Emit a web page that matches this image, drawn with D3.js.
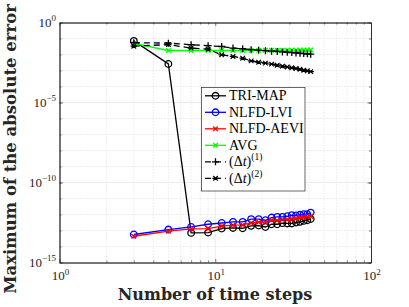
<!DOCTYPE html>
<html><head><meta charset="utf-8">
<script src="https://cdn.jsdelivr.net/npm/d3@7"></script>
<style>body{margin:0;background:#fff}svg{display:block}</style>
</head><body>
<svg id="c" width="409" height="307"></svg>
<script>
// ---- data (log10 of the maximum absolute error) ----
const steps = [3,5,7,9,11,13,15,17,19,21,23,25,27,29,31,33,35,37,39,41];
const triMapLog10 = [-1.15,-2.59,-13.15,-13.13,-12.88,-12.84,-12.86,-12.71,-12.69,-12.78,-12.61,-12.61,-12.54,-12.56,-12.56,-12.50,-12.46,-12.40,-12.36,-12.28];
const lviLog10    = [-13.25,-12.94,-12.78,-12.61,-12.53,-12.46,-12.46,-12.29,-12.29,-12.36,-12.19,-12.15,-12.15,-12.11,-12.04,-12.06,-12.02,-11.98,-11.98,-11.88];
const aeviLog10   = [-13.36,-13.04,-12.90,-12.88,-12.73,-12.67,-12.65,-12.53,-12.48,-12.48,-12.36,-12.38,-12.31,-12.31,-12.27,-12.25,-12.19,-12.15,-12.15,-12.11];
const avgLog10    = [-1.31,-1.75,-1.75,-1.75,-1.75,-1.75,-1.75,-1.74,-1.74,-1.74,-1.74,-1.74,-1.73,-1.73,-1.73,-1.73,-1.72,-1.72,-1.72,-1.72];
const dt1Log10    = [-1.26,-1.29,-1.39,-1.45,-1.50,-1.60,-1.64,-1.70,-1.73,-1.76,-1.79,-1.81,-1.84,-1.86,-1.88,-1.90,-1.92,-1.94,-1.96,-1.98];
const dt2Log10    = [-1.48,-1.38,-1.60,-1.67,-2.02,-2.12,-2.23,-2.40,-2.48,-2.54,-2.60,-2.67,-2.73,-2.78,-2.83,-2.88,-2.92,-2.98,-3.02,-3.07];
const seriesNames = ["TRI-MAP","NLFD-LVI","NLFD-AEVI","AVG","dt1","dt2"];
const xTickExps = [0,1,2];
const yTickExps = [0,-5,-10,-15];

const series = [
  {name:seriesNames[0], vals:triMapLog10, color:"#000000", marker:"o", dash:null},
  {name:seriesNames[1], vals:lviLog10, color:"#0000ff", marker:"o", dash:null},
  {name:seriesNames[2], vals:aeviLog10, color:"#ff0000", marker:"x", dash:null},
  {name:seriesNames[3], vals:avgLog10, color:"#00ff00", marker:"x", dash:null},
  {name:seriesNames[4], vals:dt1Log10, color:"#000000", marker:"+", dash:"6,4"},
  {name:seriesNames[5], vals:dt2Log10, color:"#000000", marker:"*", dash:"6,4"}
];

const L=59.5, R=371, T=22.5, B=262.5;
const svg = d3.select("#c");
const x = d3.scaleLog().domain([1,100]).range([L,R]);
const y = d3.scaleLog().domain([1e-15,1]).range([B,T]);
const serif = "'Liberation Serif','DejaVu Serif',serif";
const axisColor = "#262626";

// grid
const g = svg.append("g");
const minorX = [];
for (let d=1; d<100; d*=10) for (let k=2;k<=9;k++) minorX.push(d*k);
const minorY = [];
for (let e=-14; e<=-1; e++) if (e%5!==0) minorY.push(Math.pow(10,e));
g.selectAll(".mx").data(minorX).join("line")
  .attr("x1",d=>x(d)).attr("x2",d=>x(d)).attr("y1",T).attr("y2",B)
  .attr("stroke","#c8c8c8").attr("stroke-width",0.6).attr("stroke-dasharray","1,2");
g.selectAll(".my").data(minorY).join("line")
  .attr("y1",d=>y(d)).attr("y2",d=>y(d)).attr("x1",L).attr("x2",R)
  .attr("stroke","#c8c8c8").attr("stroke-width",0.6).attr("stroke-dasharray","1,2");
g.selectAll(".Mx").data([10]).join("line")
  .attr("x1",d=>x(d)).attr("x2",d=>x(d)).attr("y1",T).attr("y2",B)
  .attr("stroke","#e6e6e6").attr("stroke-width",0.8);
g.selectAll(".My").data([1e-5,1e-10]).join("line")
  .attr("y1",d=>y(d)).attr("y2",d=>y(d)).attr("x1",L).attr("x2",R)
  .attr("stroke","#e6e6e6").attr("stroke-width",0.8);

// axes (inward ticks)
function styleAxis(sel){
  sel.selectAll("path").attr("stroke",axisColor).attr("stroke-width",0.8);
  sel.selectAll("line").attr("stroke",axisColor).attr("stroke-width",0.6);
  sel.selectAll("text").remove();
}
const majX = xTickExps.map(e=>Math.pow(10,e));
const majY = yTickExps.map(e=>Math.pow(10,e));
const allYDec = d3.range(-15,1).map(e=>Math.pow(10,e));
svg.append("g").attr("transform",`translate(0,${B})`).call(d3.axisBottom(x).tickValues(minorX).tickSizeInner(-2).tickSizeOuter(0)).call(styleAxis);
svg.append("g").attr("transform",`translate(0,${B})`).call(d3.axisBottom(x).tickValues(majX).tickSizeInner(-3.5).tickSizeOuter(0)).call(styleAxis);
svg.append("g").attr("transform",`translate(0,${T})`).call(d3.axisTop(x).tickValues(minorX).tickSizeInner(-2).tickSizeOuter(0)).call(styleAxis);
svg.append("g").attr("transform",`translate(0,${T})`).call(d3.axisTop(x).tickValues(majX).tickSizeInner(-3.5).tickSizeOuter(0)).call(styleAxis);
svg.append("g").attr("transform",`translate(${L},0)`).call(d3.axisLeft(y).tickValues(allYDec).tickSizeInner(-2).tickSizeOuter(0)).call(styleAxis);
svg.append("g").attr("transform",`translate(${L},0)`).call(d3.axisLeft(y).tickValues(majY).tickSizeInner(-3.5).tickSizeOuter(0)).call(styleAxis);
svg.append("g").attr("transform",`translate(${R},0)`).call(d3.axisRight(y).tickValues(allYDec).tickSizeInner(-2).tickSizeOuter(0)).call(styleAxis);
svg.append("g").attr("transform",`translate(${R},0)`).call(d3.axisRight(y).tickValues(majY).tickSizeInner(-3.5).tickSizeOuter(0)).call(styleAxis);

// tick labels
function powLabel(parent, px, py, exp, anchor){
  const t = parent.append("text").attr("x",px).attr("y",py).attr("text-anchor",anchor)
    .attr("font-family",serif).attr("font-size",13).attr("fill",axisColor);
  t.append("tspan").text("10");
  t.append("tspan").attr("font-size",9).attr("dy",-5.5).text(exp<0?"\u2212"+(-exp):String(exp));
}
xTickExps.forEach(e=>powLabel(svg, x(Math.pow(10,e))+1, 280, e, "middle"));
yTickExps.forEach(e=>powLabel(svg, 56, y(Math.pow(10,e))+4, e, "end"));

// axis titles
svg.append("text").attr("x",215).attr("y",300).attr("text-anchor","middle")
  .attr("font-family","'DejaVu Serif',serif").attr("font-weight","bold").attr("font-size",16)
  .attr("fill",axisColor).text("Number of time steps");
svg.append("text").attr("transform","translate(16,149) rotate(-90)").attr("text-anchor","middle")
  .attr("font-family","'DejaVu Serif',serif").attr("font-weight","bold").attr("font-size",16.5)
  .attr("fill",axisColor).text("Maximum of the absolute error");

// markers
function drawMarker(sel, type, color){
  if (type==="o") sel.append("circle").attr("r",3.3).attr("fill","none").attr("stroke",color).attr("stroke-width",1.3);
  else if (type==="x") sel.append("path").attr("d","M-2.3,-2.3L2.3,2.3M-2.3,2.3L2.3,-2.3").attr("stroke",color).attr("stroke-width",1.3);
  else if (type==="+") sel.append("path").attr("d","M-3.5,0L3.5,0M0,-3.5L0,3.5").attr("stroke",color).attr("stroke-width",1.3);
  else if (type==="*") sel.append("path").attr("d","M-3.2,0L3.2,0M-2.3,-2.3L2.3,2.3M-2.3,2.3L2.3,-2.3").attr("stroke",color).attr("stroke-width",1.2);
}

const plot = svg.append("g");
const line = d3.line().x(d=>x(d[0])).y(d=>y(d[1]));
series.forEach(s=>{
  const pts = steps.map((n,i)=>[n, Math.pow(10, s.vals[i])]);
  const p = plot.append("path").datum(pts).attr("d",line).attr("fill","none")
    .attr("stroke",s.color).attr("stroke-width",1.3);
  if (s.dash) p.attr("stroke-dasharray",s.dash);
  pts.forEach(pt=>{
    const m = plot.append("g").attr("transform",`translate(${x(pt[0])},${y(pt[1])})`);
    drawMarker(m, s.marker, s.color);
  });
});

// legend
const lg = svg.append("g");
lg.append("rect").attr("x",201.5).attr("y",87.5).attr("width",103.5).attr("height",103.5)
  .attr("fill","#fff").attr("stroke",axisColor).attr("stroke-width",0.7);
const rowY = [95.8,112.3,128.8,145.3,161.8,178.3];
series.forEach((s,i)=>{
  const ry = rowY[i];
  const l = lg.append("line").attr("x1",205).attr("x2",226).attr("y1",ry).attr("y2",ry)
    .attr("stroke",s.color).attr("stroke-width",1.3);
  if (s.dash) l.attr("stroke-dasharray","6,4");
  drawMarker(lg.append("g").attr("transform",`translate(215.5,${ry})`), s.marker, s.color);
  const t = lg.append("text").attr("x",229).attr("y",ry+4.5).attr("font-family",serif)
    .attr("font-size",14).attr("fill","#000");
  if (i<4) t.text(s.name);
  else {
    t.append("tspan").text("(\u0394");
    t.append("tspan").attr("font-style","italic").text("t");
    t.append("tspan").text(")");
    t.append("tspan").attr("font-size",9.5).attr("dy",-6).text(i===4?"(1)":"(2)");
  }
});
</script>
</body></html>
